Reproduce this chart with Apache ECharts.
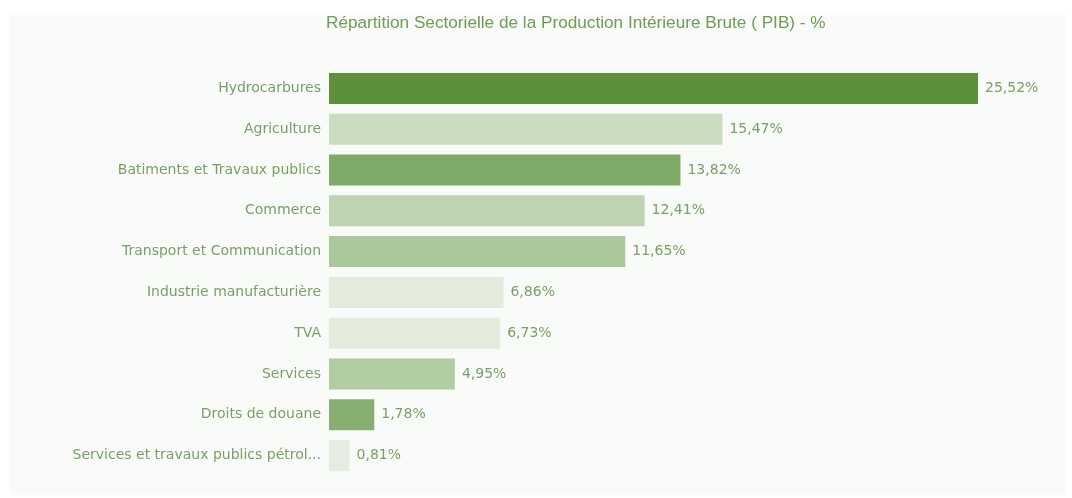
<!DOCTYPE html>
<html>
<head>
<meta charset="utf-8">
<script src="https://cdn.jsdelivr.net/npm/echarts@6/dist/echarts.min.js"></script>
<style>
  html, body { margin: 0; padding: 0; background: #ffffff; }
  #chart { position: absolute; left: 9px; top: 13px; width: 1056px; height: 482px; background: #f9fbf8; }
</style>
</head>
<body>
<div id="chart"></div>
<script>
// Sector shares of gross domestic production (%), top to bottom
const sectors = [
  'Hydrocarbures',
  'Agriculture',
  'Batiments et Travaux publics',
  'Commerce',
  'Transport et Communication',
  'Industrie manufacturière',
  'TVA',
  'Services',
  'Droits de douane',
  'Services et travaux publics pétroliers'
];
const shares = [25.52, 15.47, 13.82, 12.41, 11.65, 6.86, 6.73, 4.95, 1.78, 0.81];
const barColors = [
  '#5c913a', '#c9dcc0', '#7fa966', '#bdd3b2', '#aac89b',
  '#e3ebdc', '#e3ebdc', '#b1cba3', '#89ae73', '#e5ece1'
];

const labelFont = '"DejaVu Sans", sans-serif';
const textColor = '#7a9f66';

const chart = echarts.init(document.getElementById('chart'));
chart.setOption({
  animation: false,
  title: {
    text: 'Répartition Sectorielle de la Production Intérieure Brute ( PIB) - %',
    left: 312,
    top: -3,
    textStyle: {
      fontFamily: '"Liberation Sans Narrow", "Liberation Sans", Arial, sans-serif',
      fontSize: 17.2,
      fontWeight: 'normal',
      color: '#6f9c58'
    }
  },
  grid: { left: 320, top: 55, width: 649, height: 408, containLabel: false },
  xAxis: {
    type: 'value',
    min: 0,
    max: 25.52,
    show: false
  },
  yAxis: {
    type: 'category',
    inverse: true,
    data: sectors,
    axisLine: { show: false },
    axisTick: { show: false },
    axisLabel: {
      margin: 8,
      fontFamily: labelFont,
      fontSize: 14,
      color: textColor,
      width: 252,
      overflow: 'truncate',
      ellipsis: '...'
    }
  },
  series: [{
    type: 'bar',
    barCategoryGap: '24%',
    data: shares.map((v, i) => ({ value: v, itemStyle: { color: barColors[i] } })),
    label: {
      show: true,
      position: 'right',
      distance: 7,
      fontFamily: labelFont,
      fontSize: 14,
      color: textColor,
      formatter: p => p.value.toFixed(2).replace('.', ',') + '%'
    }
  }]
});
</script>
</body>
</html>
